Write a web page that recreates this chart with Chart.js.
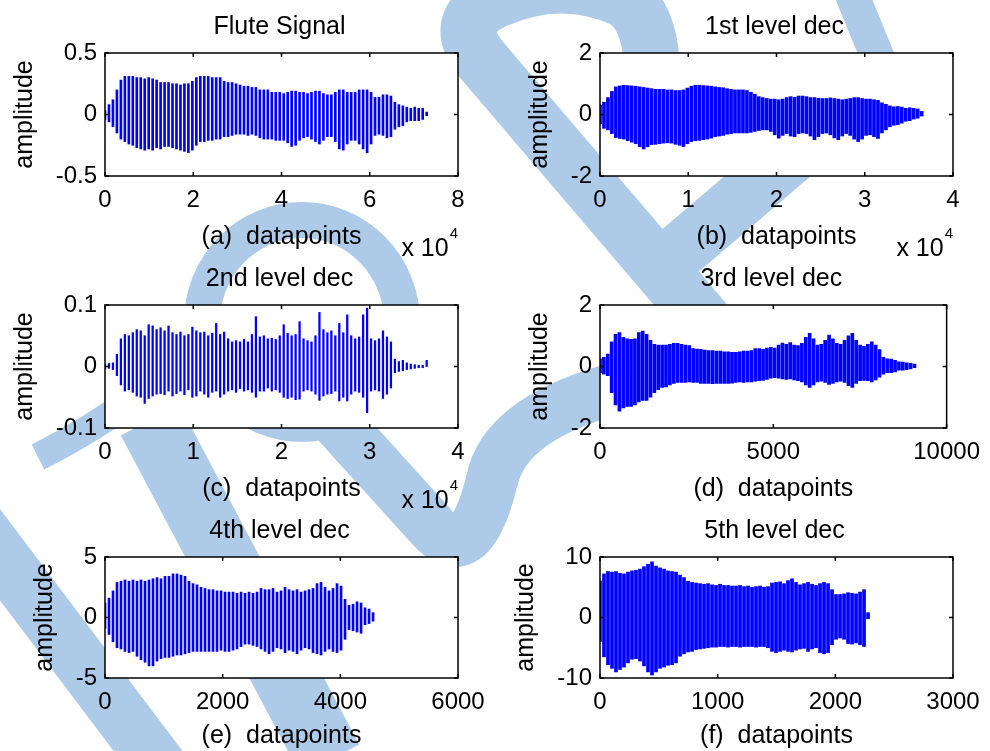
<!DOCTYPE html>
<html>
<head>
<meta charset="utf-8">
<script src="https://cdn.jsdelivr.net/npm/chart.js@4.4.1/dist/chart.umd.min.js"></script>
<style>
  html, body { margin: 0; padding: 0; background: #fff; overflow: hidden; }
  #page { position: relative; width: 990px; height: 751px; overflow: hidden; }
  #mark { position: absolute; left: 0; top: 0; z-index: 0; }
  canvas { position: absolute; z-index: 1; }
</style>
</head>
<body>
<div id="page">
<svg id="mark" width="990" height="751">
  <g fill="none" stroke="#adcbe8" stroke-width="56">
    <path d="M 712 330 L 480 58 Q 452 22 492 2 Q 560 -30 625 0 Q 655 20 652 90"/>
    <path d="M 640 285 L 810 140"/>
    <path d="M 850 -10 L 895 100" stroke-width="34"/>
    <ellipse cx="302" cy="322" rx="100" ry="102" stroke-width="36"/>
    <path d="M 206 330 Q 150 400 38 457" stroke-width="28"/>
    <path d="M 150 420 L 330 760" stroke-width="66"/>
    <path d="M 335 420 L 430 525 Q 470 572 492 480 Q 505 420 610 390" stroke-width="52"/>
    <path d="M -30 515 L 170 780" stroke-width="55"/>
  </g>
</svg>
<canvas id="ca" width="495" height="265" style="left:0;top:0"></canvas>
<canvas id="cb" width="495" height="265" style="left:495px;top:0"></canvas>
<canvas id="cc" width="495" height="265" style="left:0;top:252px"></canvas>
<canvas id="cd" width="495" height="265" style="left:495px;top:252px"></canvas>
<canvas id="ce" width="495" height="247" style="left:0;top:504px"></canvas>
<canvas id="cf" width="495" height="247" style="left:495px;top:504px"></canvas>
</div>
<script>
// envelope of each decomposition, one vertical stroke per sample (top / bottom)
const fluteStep = 900;
const fluteTop = [0.03,0.08,0.12,0.20,0.28,0.31,0.31,0.31,0.30,0.30,
  0.29,0.30,0.29,0.28,0.26,0.26,0.26,0.25,0.25,0.24,
  0.25,0.25,0.27,0.30,0.31,0.31,0.31,0.30,0.30,0.30,
  0.27,0.26,0.26,0.25,0.24,0.23,0.23,0.22,0.22,0.20,
  0.20,0.20,0.18,0.18,0.18,0.17,0.18,0.19,0.19,0.18,
  0.18,0.17,0.18,0.19,0.19,0.17,0.16,0.16,0.18,0.20,
  0.20,0.18,0.18,0.18,0.20,0.20,0.20,0.18,0.14,0.14,
  0.16,0.16,0.15,0.10,0.08,0.07,0.06,0.05,0.06,0.05,
  0.05,0.02];
const fluteBot = [-0.04,-0.06,-0.10,-0.15,-0.20,-0.22,-0.24,-0.25,-0.27,-0.28,
  -0.29,-0.28,-0.29,-0.27,-0.28,-0.26,-0.26,-0.27,-0.28,-0.29,
  -0.30,-0.31,-0.29,-0.25,-0.22,-0.22,-0.21,-0.21,-0.20,-0.20,
  -0.18,-0.18,-0.17,-0.16,-0.16,-0.16,-0.17,-0.16,-0.17,-0.19,
  -0.20,-0.20,-0.20,-0.21,-0.21,-0.21,-0.23,-0.26,-0.25,-0.21,
  -0.19,-0.18,-0.20,-0.22,-0.24,-0.21,-0.18,-0.18,-0.22,-0.28,
  -0.29,-0.24,-0.21,-0.21,-0.24,-0.28,-0.31,-0.24,-0.17,-0.16,
  -0.17,-0.19,-0.18,-0.12,-0.10,-0.09,-0.06,-0.05,-0.05,-0.05,
  -0.04,-0.01];

const dec1Step = 450;
const dec1Top = [0.30,0.40,0.55,0.75,0.90,0.93,0.95,0.94,0.93,0.92,
  0.90,0.88,0.86,0.84,0.82,0.82,0.82,0.80,0.80,0.78,
  0.78,0.80,0.86,0.92,0.95,0.95,0.94,0.93,0.92,0.90,
  0.88,0.87,0.84,0.82,0.80,0.80,0.80,0.78,0.72,0.66,
  0.58,0.55,0.52,0.50,0.50,0.48,0.50,0.55,0.58,0.56,
  0.60,0.60,0.58,0.55,0.55,0.53,0.52,0.52,0.54,0.52,
  0.50,0.48,0.50,0.52,0.55,0.55,0.52,0.50,0.50,0.48,
  0.46,0.38,0.33,0.28,0.25,0.26,0.24,0.20,0.22,0.20,
  0.18,0.10];
const dec1Bot = [-0.30,-0.45,-0.50,-0.62,-0.75,-0.78,-0.80,-0.85,-0.90,-0.95,
  -1.05,-1.12,-1.05,-0.98,-0.97,-0.95,-0.93,-0.92,-0.93,-0.97,
  -1.00,-1.04,-0.95,-0.88,-0.85,-0.84,-0.82,-0.80,-0.77,-0.72,
  -0.70,-0.68,-0.64,-0.62,-0.60,-0.60,-0.60,-0.60,-0.58,-0.55,
  -0.52,-0.50,-0.50,-0.55,-0.66,-0.77,-0.68,-0.62,-0.70,-0.72,
  -0.62,-0.60,-0.62,-0.70,-0.82,-0.72,-0.62,-0.60,-0.66,-0.76,
  -0.82,-0.70,-0.62,-0.68,-0.80,-0.88,-0.80,-0.68,-0.66,-0.72,
  -0.78,-0.60,-0.50,-0.40,-0.35,-0.33,-0.28,-0.22,-0.20,-0.15,
  -0.12,-0.05];

const dec2Step = 450;
const dec2Top = [0.004,0.005,0.006,0.020,0.045,0.052,0.050,0.055,0.060,0.058,
  0.050,0.068,0.066,0.060,0.063,0.058,0.066,0.055,0.052,0.056,
  0.050,0.052,0.064,0.058,0.055,0.056,0.050,0.054,0.070,0.052,
  0.056,0.045,0.040,0.042,0.040,0.044,0.040,0.052,0.081,0.048,
  0.050,0.045,0.046,0.044,0.050,0.068,0.054,0.050,0.052,0.073,
  0.045,0.042,0.040,0.050,0.088,0.060,0.055,0.058,0.050,0.070,
  0.055,0.084,0.050,0.045,0.048,0.084,0.095,0.045,0.042,0.045,
  0.058,0.048,0.040,0.012,0.008,0.010,0.006,0.004,0.003,0.002,
  0.002,0.010];
const dec2Bot = [-0.004,-0.003,-0.005,-0.015,-0.030,-0.040,-0.038,-0.042,-0.048,-0.050,
  -0.060,-0.052,-0.048,-0.045,-0.044,-0.046,-0.040,-0.048,-0.044,-0.040,
  -0.046,-0.038,-0.050,-0.048,-0.040,-0.045,-0.050,-0.042,-0.040,-0.050,
  -0.045,-0.040,-0.038,-0.042,-0.036,-0.040,-0.038,-0.042,-0.050,-0.040,
  -0.040,-0.035,-0.040,-0.038,-0.042,-0.050,-0.052,-0.050,-0.054,-0.053,
  -0.040,-0.038,-0.040,-0.045,-0.055,-0.048,-0.045,-0.044,-0.040,-0.056,
  -0.050,-0.056,-0.045,-0.040,-0.042,-0.050,-0.075,-0.040,-0.038,-0.040,
  -0.052,-0.045,-0.035,-0.010,-0.008,-0.007,-0.005,-0.004,-0.003,-0.002,
  -0.002,0.000];

const dec3Step = 112;
const dec3Top = [0.25,0.30,0.40,0.80,1.05,1.10,0.95,0.90,0.88,0.90,
  1.10,1.15,1.05,0.85,0.72,0.70,0.70,0.70,0.72,0.75,
  0.75,0.72,0.70,0.68,0.58,0.57,0.56,0.53,0.52,0.52,
  0.50,0.50,0.48,0.48,0.46,0.46,0.48,0.50,0.50,0.52,
  0.58,0.58,0.56,0.60,0.62,0.60,0.70,0.76,0.72,0.78,
  0.70,0.68,0.75,0.95,1.08,0.90,0.70,0.72,0.85,1.02,
  0.90,0.75,0.72,0.85,1.00,1.08,0.85,0.70,0.66,0.72,
  0.80,0.70,0.55,0.30,0.25,0.24,0.20,0.15,0.14,0.12,
  0.10,0.08];
const dec3Bot = [-0.20,-0.25,-0.30,-0.85,-1.25,-1.45,-1.35,-1.30,-1.30,-1.25,
  -1.15,-1.10,-1.10,-1.00,-0.85,-0.75,-0.68,-0.66,-0.60,-0.55,
  -0.52,-0.52,-0.52,-0.50,-0.52,-0.52,-0.55,-0.55,-0.55,-0.56,
  -0.55,-0.55,-0.55,-0.55,-0.54,-0.52,-0.50,-0.52,-0.50,-0.50,
  -0.48,-0.46,-0.45,-0.42,-0.38,-0.36,-0.38,-0.40,-0.42,-0.40,
  -0.44,-0.46,-0.50,-0.60,-0.68,-0.60,-0.50,-0.48,-0.52,-0.58,
  -0.55,-0.50,-0.48,-0.52,-0.62,-0.68,-0.55,-0.46,-0.45,-0.46,
  -0.50,-0.44,-0.35,-0.25,-0.20,-0.20,-0.18,-0.12,-0.12,-0.10,
  -0.08,-0.04];

const dec4Step = 68;
const dec4Top = [1.2,1.6,2.2,2.9,3.0,3.1,3.0,3.1,3.0,3.1,
  3.0,3.1,3.2,3.3,3.2,3.4,3.4,3.6,3.6,3.5,
  3.4,3.0,2.8,2.7,2.5,2.4,2.3,2.3,2.2,2.2,
  2.1,2.1,2.1,2.0,2.1,2.0,2.1,2.0,2.1,2.4,
  2.3,2.3,2.4,2.1,2.2,2.5,2.3,2.2,2.3,2.1,
  2.2,2.3,2.4,2.8,2.9,2.5,2.2,2.4,2.8,2.6,
  1.5,1.0,1.1,1.3,1.2,0.8,0.7,0.4];
const dec4Bot = [-0.9,-1.4,-2.0,-2.5,-2.6,-2.8,-2.9,-2.8,-3.2,-3.5,
  -3.7,-4.0,-4.0,-3.6,-3.4,-3.3,-3.3,-3.2,-3.1,-3.1,
  -3.0,-2.9,-2.8,-2.8,-2.8,-2.8,-2.8,-2.8,-2.8,-2.7,
  -2.8,-2.8,-2.7,-2.6,-2.4,-2.2,-2.2,-2.3,-2.4,-2.6,
  -2.8,-3.0,-2.8,-2.5,-2.6,-2.9,-2.7,-2.8,-3.0,-2.7,
  -2.5,-2.6,-2.9,-3.0,-3.1,-2.8,-2.6,-2.8,-2.9,-2.7,
  -1.8,-1.0,-1.1,-1.2,-1.3,-0.6,-0.5,-0.3];

const dec5Step = 34;
const dec5Top = [6.0,7.2,7.6,7.5,7.6,7.3,7.2,7.5,7.7,7.8,
  8.0,8.4,8.8,9.2,8.5,8.2,8.0,7.7,7.6,7.5,
  7.0,6.6,6.0,5.8,5.7,5.6,5.5,5.6,5.4,5.3,
  5.5,5.3,5.3,5.2,5.2,5.3,5.1,5.2,5.0,5.1,
  5.2,5.0,5.1,5.7,5.8,5.9,5.6,6.1,6.4,5.8,
  5.4,5.6,5.8,5.5,5.3,5.6,5.8,5.6,4.6,3.8,
  3.8,3.9,4.1,4.0,3.9,4.2,4.6,0.8];
const dec5Bot = [-4.0,-6.5,-7.8,-8.4,-9.0,-8.6,-8.2,-7.5,-6.9,-6.8,
  -7.2,-8.0,-9.0,-9.5,-9.0,-8.4,-8.2,-7.9,-7.8,-7.5,
  -6.4,-6.0,-5.7,-5.6,-5.3,-5.2,-5.1,-5.0,-4.9,-4.9,
  -4.8,-4.8,-4.9,-4.8,-4.8,-4.9,-4.8,-4.8,-4.8,-4.9,
  -4.8,-4.8,-5.0,-5.6,-5.8,-5.6,-5.4,-5.6,-5.7,-5.4,
  -5.2,-5.1,-5.6,-5.2,-5.0,-5.8,-6.0,-5.8,-4.5,-3.6,
  -3.4,-3.6,-4.3,-4.4,-4.2,-4.5,-4.8,-0.2];

// tick labels
const fluteXTicks = ['0', '2', '4', '6', '8'];
const fluteYTicks = ['-0.5', '0', '0.5'];
const dec1XTicks = ['0', '1', '2', '3', '4'];
const dec1YTicks = ['-2', '0', '2'];
const dec2XTicks = ['0', '1', '2', '3', '4'];
const dec2YTicks = ['-0.1', '0', '0.1'];
const dec3XTicks = ['0', '5000', '10000'];
const dec3YTicks = ['-2', '0', '2'];
const dec4XTicks = ['0', '2000', '4000', '6000'];
const dec4YTicks = ['-5', '0', '5'];
const dec5XTicks = ['0', '1000', '2000', '3000'];
const dec5YTicks = ['-10', '0', '10'];

const FONT = '"Liberation Sans", Arial, sans-serif';

function strokes(top, bot, step) {
  return top.map((t, i) => ({ x: i * step, y: [bot[i], t] }));
}

// matlab-like box: white axes, frame, inward ticks, title, x10^4 exponent
const matlabAxes = {
  id: 'matlabAxes',
  beforeDraw(chart) {
    const { ctx, chartArea: a } = chart;
    ctx.save();
    ctx.fillStyle = '#fff';
    ctx.fillRect(a.left, a.top, a.right - a.left, a.bottom - a.top);
    ctx.restore();
  },
  afterDraw(chart, args, opts) {
    const { ctx, chartArea: a, scales: { x, y } } = chart;
    ctx.save();
    ctx.strokeStyle = '#000';
    ctx.lineWidth = 1.5;
    ctx.strokeRect(a.left, a.top, a.right - a.left, a.bottom - a.top);
    ctx.beginPath();
    x.ticks.forEach(t => {
      const px = x.getPixelForValue(t.value);
      ctx.moveTo(px, a.bottom); ctx.lineTo(px, a.bottom - 4);
      ctx.moveTo(px, a.top); ctx.lineTo(px, a.top + 4);
    });
    y.ticks.forEach(t => {
      const py = y.getPixelForValue(t.value);
      ctx.moveTo(a.left, py); ctx.lineTo(a.left + 4, py);
      ctx.moveTo(a.right, py); ctx.lineTo(a.right - 4, py);
    });
    ctx.stroke();

    ctx.fillStyle = '#000';
    ctx.font = '25px ' + FONT;
    ctx.textAlign = 'center';
    ctx.textBaseline = 'alphabetic';
    ctx.fillText(opts.title, (a.left + a.right) / 2 - 2, a.top - 19);
    if (opts.exponent) {
      ctx.font = '15px ' + FONT;
      const w = ctx.measureText('4').width;
      ctx.textAlign = 'left';
      ctx.fillText('4', a.right - w, a.bottom + 62);
      ctx.font = '25px ' + FONT;
      ctx.textAlign = 'right';
      ctx.fillText('x 10', a.right - w - 1, a.bottom + 80);
    }
    ctx.restore();
  }
};

const panels = [
  { id: 'ca', title: 'Flute Signal', xlabel: '(a)  datapoints', top: fluteTop, bot: fluteBot, step: fluteStep,
    xmax: 80000, xstep: 20000, xticks: fluteXTicks, ymax: 0.5, ystep: 0.5, yticks: fluteYTicks,
    exponent: true, bar: 2.0, ypad: 10, xh: 76, pb: 13 },
  { id: 'cb', title: '1st level dec', xlabel: '(b)  datapoints', top: dec1Top, bot: dec1Bot, step: dec1Step,
    xmax: 40000, xstep: 10000, xticks: dec1XTicks, ymax: 2, ystep: 2, yticks: dec1YTicks,
    exponent: true, bar: 3.0, ypad: 30, xh: 76, pb: 13 },
  { id: 'cc', title: '2nd level dec', xlabel: '(c)  datapoints', top: dec2Top, bot: dec2Bot, step: dec2Step,
    xmax: 40000, xstep: 10000, xticks: dec2XTicks, ymax: 0.1, ystep: 0.1, yticks: dec2YTicks,
    exponent: true, bar: 1.6, ypad: 10, xh: 76, pb: 13 },
  { id: 'cd', title: '3rd level dec', xlabel: '(d)  datapoints', top: dec3Top, bot: dec3Bot, step: dec3Step,
    xmax: 10000, xstep: 5000, xticks: dec3XTicks, ymax: 2, ystep: 2, yticks: dec3YTicks,
    exponent: false, bar: 3.0, ypad: 30, xh: 76, pb: 13 },
  { id: 'ce', title: '4th level dec', xlabel: '(e)  datapoints', top: dec4Top, bot: dec4Bot, step: dec4Step,
    xmax: 6000, xstep: 2000, xticks: dec4XTicks, ymax: 5, ystep: 5, yticks: dec4YTicks,
    exponent: false, bar: 2.0, ypad: 30.5, xh: 73, pb: 0 },
  { id: 'cf', title: '5th level dec', xlabel: '(f)  datapoints', top: dec5Top, bot: dec5Bot, step: dec5Step,
    xmax: 3000, xstep: 1000, xticks: dec5XTicks, ymax: 10, ystep: 10, yticks: dec5YTicks,
    exponent: false, bar: 3.0, ypad: 16.5, xh: 73, pb: 0 }
];

panels.forEach(p => {
  new Chart(document.getElementById(p.id), {
    type: 'bar',
    data: {
      datasets: [{
        data: strokes(p.top, p.bot, p.step),
        backgroundColor: '#0000ff',
        borderWidth: 0,
        barThickness: p.bar,
        grouped: false
      }]
    },
    options: {
      responsive: false,
      animation: false,
      devicePixelRatio: 1,
      layout: { padding: { left: 0, right: 37, top: 53, bottom: p.pb } },
      plugins: {
        legend: { display: false },
        tooltip: { enabled: false },
        matlabAxes: { title: p.title, exponent: p.exponent }
      },
      scales: {
        x: {
          type: 'linear', min: 0, max: p.xmax, offset: false,
          grid: { display: false, drawTicks: false, offset: false }, border: { display: false },
          ticks: { stepSize: p.xstep, color: '#000', font: { family: FONT, size: 24 }, padding: 10,
                   maxRotation: 0, autoSkip: false, callback: (v, i) => p.xticks[i] },
          title: { display: true, text: p.xlabel, color: '#000', font: { family: FONT, size: 25 },
                   padding: { top: 0, bottom: 0 } },
          afterFit: s => { s.height = p.xh; }
        },
        y: {
          min: -p.ymax, max: p.ymax,
          grid: { display: false, drawTicks: false }, border: { display: false },
          ticks: { stepSize: p.ystep, color: '#000', font: { family: FONT, size: 24 }, padding: 8,
                   callback: (v, i) => p.yticks[i] },
          title: { display: true, text: 'amplitude', color: '#000', font: { family: FONT, size: 25 },
                   padding: { top: p.ypad, bottom: 0 } },
          afterFit: s => { s.width = 105; }
        }
      }
    },
    plugins: [matlabAxes]
  });
});
</script>
</body>
</html>
